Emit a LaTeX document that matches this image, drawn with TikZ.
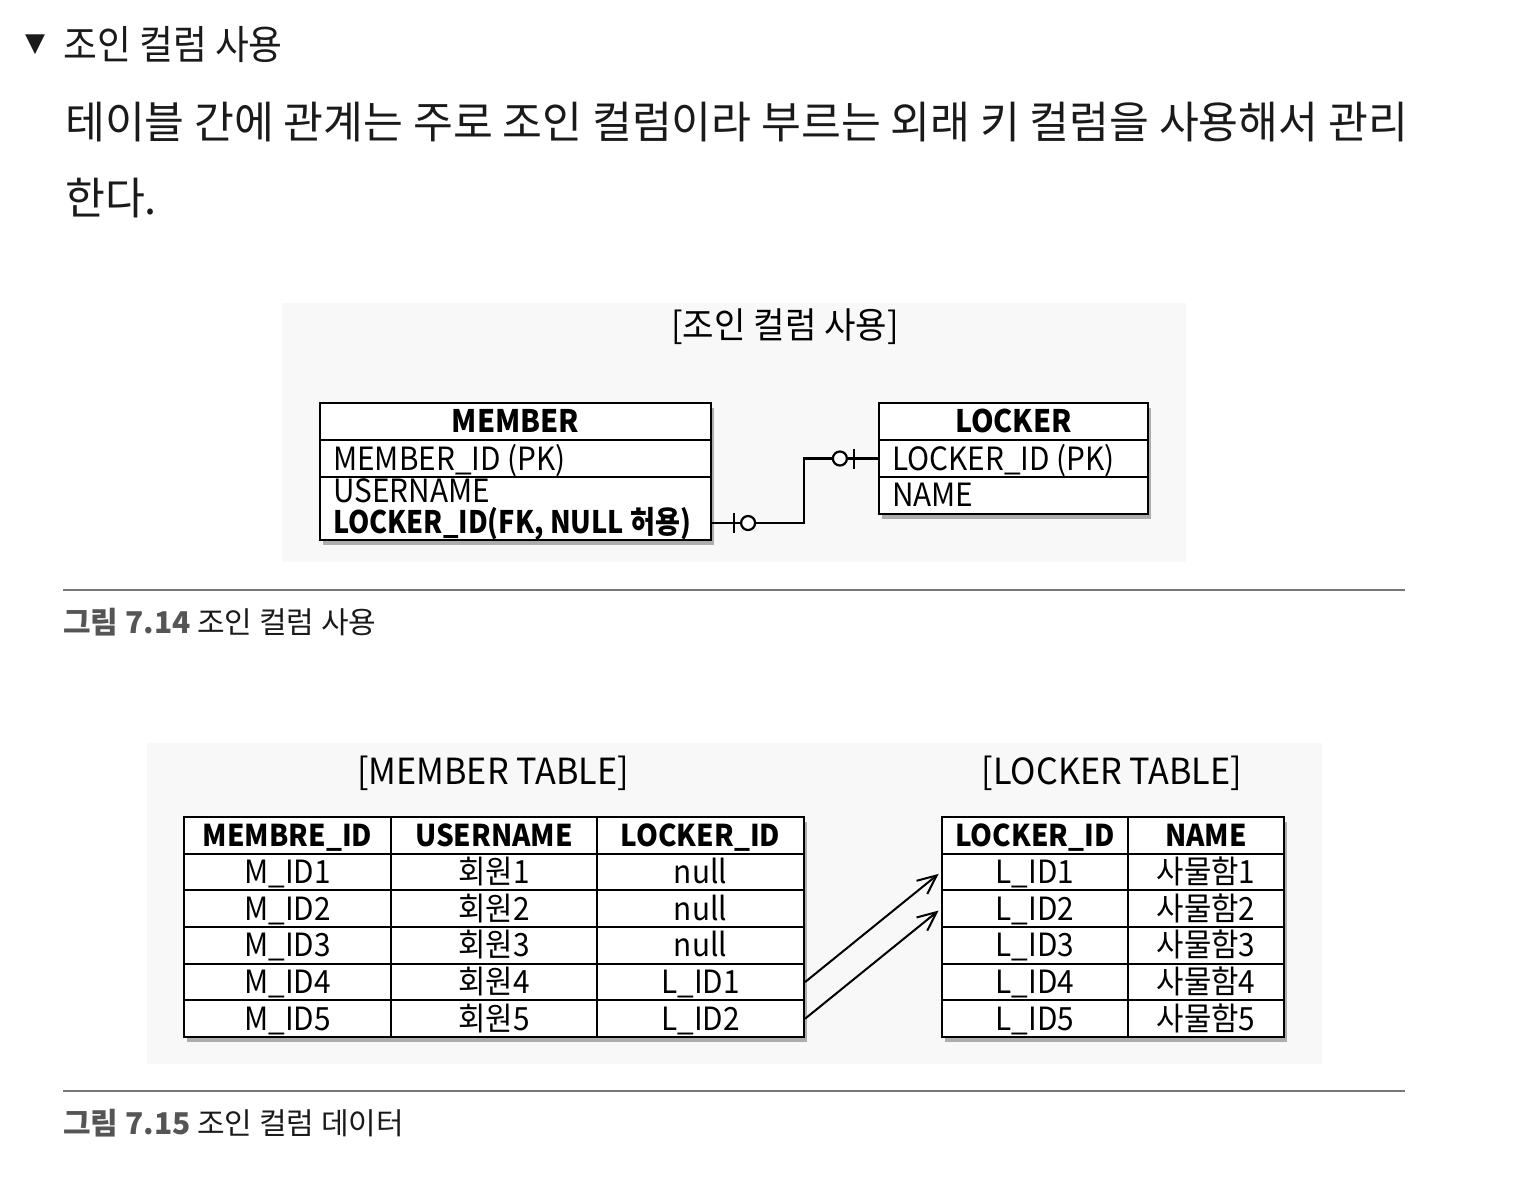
\documentclass[tikz,border=0pt]{standalone}
\usepackage{fontspec}
\setmainfont{Noto Sans CJK KR}
\newfontfamily\hfont[FakeStretch=0.92]{Noto Sans CJK KR}
\newfontfamily\bfont[FakeStretch=0.985]{Noto Sans CJK KR}
\newfontfamily\dfont[FakeStretch=0.93]{Noto Sans CJK KR}
\newfontfamily\fkfont[FakeStretch=0.875]{Noto Sans CJK KR}
\newfontfamily\tfont[FakeStretch=0.95]{Noto Sans CJK KR}
\newfontfamily\cfont{Noto Sans CJK KR}
\newfontfamily\symfont{DejaVu Sans}
\usetikzlibrary{shadows,arrows.meta,calc}
\definecolor{ink}{HTML}{1A1A1A}
\definecolor{capgray}{HTML}{555555}
\definecolor{rulegray}{HTML}{777777}
\definecolor{panelbg}{HTML}{F8F8F8}
\begin{document}
\begin{tikzpicture}[x=1pt,y=-1pt,
  panel/.style={fill=panelbg, draw=none},
  cell/.style={draw=black, line width=2.2pt, inner sep=0pt, minimum height=36.67pt,
    text height=23pt, text depth=0pt, font=\dfont\fontsize{32}{32}\selectfont},
  hcell/.style={cell, text height=22pt, font=\dfont\bfseries\fontsize{30}{30}\selectfont},
  ent/.style={draw=black, line width=2.2pt, inner sep=0pt, fill=white},
  etitle/.style={ent, text height=22pt, text depth=0pt, font=\dfont\bfseries\fontsize{31}{31}\selectfont},
  etxt/.style={inner sep=0pt, anchor=base west, font=\dfont\fontsize{32}{32}\selectfont},
  efk/.style={etxt, font=\fkfont\bfseries\fontsize{31}{31}\selectfont},
  shadowed/.style={drop shadow={shadow xshift=3pt, shadow yshift=-5pt, opacity=0.3, fill=black}},
  rel/.style={draw=black, line width=2.2pt},
  arr/.style={line width=2pt, -{Straight Barb[length=19pt,width=17pt]}},
  ttl/.style={inner sep=0pt, font=\tfont\fontsize{36}{36}\selectfont},
  captxt/.style={anchor=base west, inner sep=0pt, font=\cfont\fontsize{30}{30}\selectfont},
  rulel/.style={draw=rulegray, line width=1.5pt}]
\useasboundingbox (0,0) rectangle (1514,1198);
\fill[white] (0,0) rectangle (1514,1198);

% heading and body text
\node[inner sep=0pt, font=\symfont\fontsize{26}{26}\selectfont, text=ink] (tri) at (35,45) {▼};
\node[anchor=base west, inner sep=0pt, font=\hfont\fontsize{40}{40}\selectfont, text=ink] (head) at (63,60) {조인 컬럼 사용};
\node[anchor=base west, inner sep=0pt, font=\bfont\fontsize{44}{44}\selectfont, text=ink] (body1) at (65,139) {테이블 간에 관계는 주로 조인 컬럼이라 부르는 외래 키 컬럼을 사용해서 관리};
\node[anchor=base west, inner sep=0pt, font=\bfont\fontsize{44}{44}\selectfont, text=ink] (body2) at (65,215) {한다.};

% ===== figure 7.14 =====
\fill[panel] (282,303) rectangle (1186,562);
\node[ttl] (ttl1) at (785,327) {[조인 컬럼 사용]};

\path[shadowed, fill=white] (320,403) rectangle (711,540);
\node[etitle, minimum width=391pt, minimum height=37pt] (member-h) at (515.5,421.5) {MEMBER};
\node[ent, minimum width=391pt, minimum height=37pt] (member-pk) at (515.5,458.5) {};
\node[ent, minimum width=391pt, minimum height=63pt] (member-attr) at (515.5,508.5) {};
\node[etxt] (member-pkt) at (333,470) {MEMBER\_ID (PK)};
\node[etxt] (member-un) at (333,502) {USERNAME};
\node[efk] (member-fk) at (333,533) {LOCKER\_ID(FK, NULL 허용)};

\path[shadowed, fill=white] (879,403) rectangle (1148,514);
\node[etitle, minimum width=269pt, minimum height=37pt] (locker-h) at (1013.5,421.5) {LOCKER};
\node[ent, minimum width=269pt, minimum height=37pt] (locker-pk) at (1013.5,458.5) {};
\node[ent, minimum width=269pt, minimum height=37pt] (locker-nm) at (1013.5,495.5) {};
\node[etxt] (locker-pkt) at (892,470) {LOCKER\_ID (PK)};
\node[etxt] (locker-nmt) at (892,506) {NAME};

\coordinate (bend) at (804,458.5);
\coordinate (fkpt) at (member-attr.east |- 0,523);
\draw[rel] (fkpt) -- (bend |- fkpt) |- (locker-pk.west);
\draw[rel] ($(fkpt)+(22,-10)$) -- ++(0,20);
\draw[rel, fill=white] ($(fkpt)+(36,0)$) circle[radius=7];
\draw[rel] ($(locker-pk.west)+(-24,-10)$) -- ++(0,20);
\draw[rel, fill=white] ($(locker-pk.west)+(-38,0)$) circle[radius=7];

\draw[rulel] (63,590) -- (1405,590);
\node[captxt] (cap1) at (63,633) {\textcolor{capgray}{\bfseries 그림 7.14} \textcolor{ink}{조인 컬럼 사용}};

% ===== figure 7.15 =====
\fill[panel] (147,743) rectangle (1322,1064);
\node[ttl] (ttl2) at (493,773) {[MEMBER TABLE]};
\node[ttl] (ttl3) at (1112,773) {[LOCKER TABLE]};

\path[shadowed, fill=white] (184,817) rectangle (804,1037);
\path[shadowed, fill=white] (942,817) rectangle (1284,1037);

\foreach \c/\x/\w/\tx in {1/287.5/207/MEMBRE\_ID, 2/494/206/USERNAME, 3/700.5/207/LOCKER\_ID}
  \node[hcell, minimum width=\w pt] (mt-0-\c) at (\x,835.33) {\tx};
\foreach \r/\a/\b/\cc in {1/M\_ID1/회원1/null, 2/M\_ID2/회원2/null, 3/M\_ID3/회원3/null, 4/M\_ID4/회원4/L\_ID1, 5/M\_ID5/회원5/L\_ID2} {
  \pgfmathsetmacro\yy{835.33+36.67*\r}
  \node[cell, minimum width=207pt] (mt-\r-1) at (287.5,\yy) {\a};
  \node[cell, minimum width=206pt] (mt-\r-2) at (494,\yy) {\b};
  \node[cell, minimum width=207pt] (mt-\r-3) at (700.5,\yy) {\cc};
}
\foreach \c/\x/\w/\tx in {1/1035/186/LOCKER\_ID, 2/1206/156/NAME}
  \node[hcell, minimum width=\w pt] (lt-0-\c) at (\x,835.33) {\tx};
\foreach \r in {1,...,5} {
  \pgfmathsetmacro\yy{835.33+36.67*\r}
  \node[cell, minimum width=186pt] (lt-\r-1) at (1035,\yy) {L\_ID\r};
  \node[cell, minimum width=156pt] (lt-\r-2) at (1206,\yy) {사물함\r};
}

\draw[arr, shorten >=3pt] (mt-4-3.east) -- (lt-1-1.west);
\draw[arr, shorten >=3pt] (mt-5-3.east) -- (lt-2-1.west);

\draw[rulel] (63,1091) -- (1405,1091);
\node[captxt] (cap2) at (63,1134) {\textcolor{capgray}{\bfseries 그림 7.15} \textcolor{ink}{조인 컬럼 데이터}};
\end{tikzpicture}
\end{document}
